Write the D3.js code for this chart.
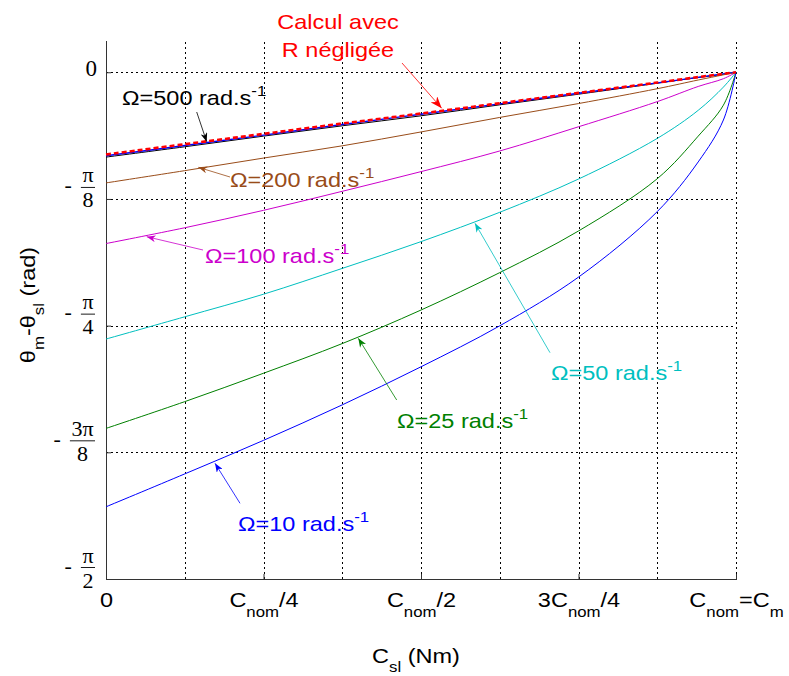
<!DOCTYPE html>
<html><head><meta charset="utf-8">
<script src="https://cdn.jsdelivr.net/npm/d3@7"></script>
<style>body{margin:0;background:#fff} svg{display:block}</style>
</head><body>
<svg id="chart" width="789" height="676"></svg>
<script>
// ---------- data (fraction of Cnom on x, angle in rad on y) ----------
const xFrac      = [0, 0.125, 0.25, 0.375, 0.5, 0.625, 0.75, 0.875, 0.94, 0.98, 1];
const valsRneg   = [-0.255,-0.223,-0.191,-0.159,-0.128,-0.096,-0.064,-0.032,-0.015,-0.005,0];
const valsW1000  = [-0.259,-0.227,-0.195,-0.162,-0.130,-0.098,-0.065,-0.033,-0.016,-0.005,0];
const valsW500   = [-0.263,-0.231,-0.198,-0.166,-0.135,-0.101,-0.068,-0.034,-0.016,-0.006,0];
const valsW200   = [-0.343,-0.305,-0.266,-0.228,-0.185,-0.140,-0.097,-0.051,-0.024,-0.008,0];
const valsW100   = [-0.531,-0.482,-0.428,-0.369,-0.308,-0.244,-0.169,-0.091,-0.044,-0.020,0];
const valsW50    = [-0.827,-0.758,-0.688,-0.608,-0.525,-0.434,-0.331,-0.205,-0.118,-0.046,0];
const valsW25    = [-1.104,-1.021,-0.933,-0.841,-0.737,-0.621,-0.492,-0.330,-0.198,-0.102,0];
const valsW10    = [-1.347,-1.245,-1.141,-1.031,-0.913,-0.786,-0.635,-0.432,-0.278,-0.148,0];

const xTickValues = [0, 0.25, 0.5, 0.75, 1];
const xTickLabels = ["0", "C_{nom}/4", "C_{nom}/2", "3C_{nom}/4", "C_{nom}=C_{m}"];
const xGridValues = [0.125, 0.25, 0.375, 0.5, 0.625, 0.75, 0.875, 1];
const yTickValues = [0, -Math.PI/8, -Math.PI/4, -3*Math.PI/8, -Math.PI/2];
const yTickNum    = ["0", "π", "π", "3π", "π"];
const yTickDen    = ["", "8", "4", "8", "2"];
const yGridValues = [0, -Math.PI/8, -Math.PI/4, -3*Math.PI/8];

const xTitle = "C_{sl} (Nm)";
const yTitle = "θ_{m}-θ_{sl} (rad)";

// ---------- styles ----------
const series = [
  {vals: valsW500,  color:"#000000", width:1,   dash:null},
  {vals: valsW1000, color:"#0000ff", width:1.4, dash:null},
  {vals: valsW200,  color:"#994c19", width:1,   dash:null},
  {vals: valsW100,  color:"#cc00cc", width:1,   dash:null},
  {vals: valsW50,   color:"#00bfbf", width:1,   dash:null},
  {vals: valsW25,   color:"#008000", width:1,   dash:null},
  {vals: valsW10,   color:"#0000ff", width:1,   dash:null},
  {vals: valsRneg,  color:"#ff0000", width:2.6, dash:"5,3"}
];

const annotations = [
  {lines:["Calcul avec","R négligée"], color:"#ff0000", x:338, ys:[29,57], anchor:"middle", tail:[402,63], tip:[441.7,108.3], big:true},
  {lines:["Ω=500 rad.s^{-1}"], color:"#000000", x:122, ys:[105], anchor:"start", tail:[196.7,112], tip:[206.7,141.7]},
  {lines:["Ω=200 rad.s^{-1}"], color:"#994c19", x:230, ys:[187], anchor:"start", tail:[230,177], tip:[198.3,167.3]},
  {lines:["Ω=100 rad.s^{-1}"], color:"#cc00cc", x:205, ys:[263], anchor:"start", tail:[203,250], tip:[146.7,236.7]},
  {lines:["Ω=50 rad.s^{-1}"],  color:"#00bfbf", x:551, ys:[380], anchor:"start", tail:[550,352.7], tip:[475,223.3]},
  {lines:["Ω=25 rad.s^{-1}"],  color:"#008000", x:397, ys:[428], anchor:"start", tail:[396.7,400], tip:[358.3,338.3]},
  {lines:["Ω=10 rad.s^{-1}"],  color:"#0000ff", x:238, ys:[531], anchor:"start", tail:[240,503.3], tip:[215,463.3]}
];

const SANS = "'Liberation Sans', Arial, Helvetica, sans-serif";
const SERIF = "'Liberation Serif', 'DejaVu Serif', serif";
const SX = 1.12; // horizontal stretch of the sans text

// ---------- scales ----------
const L = 106, R = 736, T = 40, B = 579;
const x = d3.scaleLinear().domain([0, 1]).range([L, R]);
const y = d3.scaleLinear().domain([-Math.PI/2, 0.1]).range([B, T]);

const svg = d3.select("#chart");
const defs = svg.append("defs");

function rich(sel, str, o) {
  const toks = str.split(/(_\{[^}]*\}|\^\{[^}]*\})/).filter(s => s.length);
  let cur = 0;
  toks.forEach(t => {
    let target = 0, size = o.size, txt = t;
    if (t.startsWith("_{")) { target = o.subDy; size = o.subSize; txt = t.slice(2, -1); }
    else if (t.startsWith("^{")) { target = o.supDy; size = o.supSize; txt = t.slice(2, -1); }
    sel.append("tspan").attr("dy", target - cur).attr("font-size", size).text(txt);
    cur = target;
  });
}
const RICH = {size:21, subSize:15, subDy:9, supSize:15, supDy:-9};

// ---------- grid ----------
const gridX = svg.append("g").attr("transform", `translate(0,${B})`)
  .call(d3.axisBottom(x).tickValues(xGridValues).tickSize(-(B - T)).tickFormat(""));
gridX.select(".domain").remove();
gridX.selectAll("line").attr("stroke", "#000").attr("stroke-width", 1).attr("stroke-dasharray", "2,3")
  .attr("shape-rendering", "crispEdges");

const gridY = svg.append("g").attr("transform", `translate(${L},0)`)
  .call(d3.axisLeft(y).tickValues(yGridValues).tickSize(-(R - L)).tickFormat(""));
gridY.select(".domain").remove();
gridY.selectAll("line").attr("stroke", "#000").attr("stroke-width", 1).attr("stroke-dasharray", "2,3")
  .attr("shape-rendering", "crispEdges");

// ---------- axes ----------
const axX = svg.append("g").attr("transform", `translate(0,${B})`)
  .call(d3.axisBottom(x).tickValues(xTickValues).tickSizeInner(-5).tickSizeOuter(0).tickFormat(""));
axX.select(".domain").attr("stroke", "#333").attr("shape-rendering", "crispEdges");
axX.selectAll(".tick line").attr("stroke", "#333");
axX.selectAll(".tick text").remove();
axX.selectAll(".tick").each(function(d, i) {
  const t = d3.select(this).append("text")
    .attr("transform", `translate(0,28) scale(${SX},1)`).attr("text-anchor", "middle")
    .attr("fill", "#000").attr("font-family", SANS).attr("font-size", 21);
  rich(t, xTickLabels[i], {size:21, subSize:15, subDy:10, supSize:15, supDy:-9});
});

const axY = svg.append("g").attr("transform", `translate(${L},0)`)
  .call(d3.axisLeft(y).tickValues(yTickValues).tickSizeInner(-5).tickSizeOuter(0).tickFormat(""));
axY.select(".domain").attr("stroke", "#333").attr("shape-rendering", "crispEdges");
axY.selectAll(".tick line").attr("stroke", "#333");
axY.selectAll(".tick text").remove();
axY.selectAll(".tick").each(function(d, i) {
  const g = d3.select(this);
  if (!yTickDen[i]) {
    g.append("text").attr("x", -9).attr("y", 3).attr("text-anchor", "end")
      .attr("font-family", SERIF).attr("font-size", 23).attr("fill", "#000").text(yTickNum[i]);
    return;
  }
  const num = g.append("text").attr("y", -17).attr("text-anchor", "middle")
    .attr("font-family", SERIF).attr("font-size", 22).attr("fill", "#000").text(yTickNum[i]);
  const den = g.append("text").attr("y", 8).attr("text-anchor", "middle")
    .attr("font-family", SERIF).attr("font-size", 22).attr("fill", "#000").text(yTickDen[i]);
  const w = Math.max(num.node().getBBox().width, den.node().getBBox().width) + 3;
  const right = -11, cx = right - w / 2;
  num.attr("x", cx); den.attr("x", cx);
  g.append("line").attr("x1", right - w).attr("x2", right).attr("y1", -12).attr("y2", -12)
    .attr("stroke", "#000").attr("stroke-width", 0.9);
  g.append("text").attr("x", right - w - 9).attr("y", -7).attr("text-anchor", "end")
    .attr("font-family", SERIF).attr("font-size", 22).attr("fill", "#000").text("-");
});

// ---------- curves ----------
const line = d3.line().x(d => x(d[0])).y(d => y(d[1])).curve(d3.curveCatmullRom.alpha(0.5));
series.forEach(s => {
  svg.append("path").datum(xFrac.map((f, i) => [f, s.vals[i]]))
    .attr("d", line).attr("fill", "none").attr("stroke", s.color)
    .attr("stroke-width", s.width).attr("stroke-dasharray", s.dash);
});

// ---------- titles ----------
const xt = svg.append("text").attr("transform", `translate(416,663) scale(${SX},1)`).attr("text-anchor", "middle")
  .attr("font-family", SANS).attr("fill", "#000");
rich(xt, xTitle, RICH);

const yt = svg.append("text").attr("transform", `translate(35,305) rotate(-90) scale(${SX},1)`)
  .attr("text-anchor", "middle").attr("font-family", SANS).attr("fill", "#000");
rich(yt, yTitle, RICH);

// ---------- annotations ----------
annotations.forEach((a, k) => {
  const id = "arr" + k;
  const len = a.big ? 12 : 9, wid = a.big ? 9 : 7;
  defs.append("marker").attr("id", id).attr("markerUnits", "userSpaceOnUse")
    .attr("markerWidth", len).attr("markerHeight", wid)
    .attr("refX", len).attr("refY", wid / 2).attr("orient", "auto")
    .append("path").attr("d", `M0,0 L${len},${wid/2} L0,${wid} L${len*0.3},${wid/2} Z`).attr("fill", a.color);
  svg.append("line").attr("x1", a.tail[0]).attr("y1", a.tail[1]).attr("x2", a.tip[0]).attr("y2", a.tip[1])
    .attr("stroke", a.color).attr("stroke-width", 0.8).attr("marker-end", `url(#${id})`);
  a.lines.forEach((ln, j) => {
    const t = svg.append("text").attr("transform", `translate(${a.x},${a.ys[j]}) scale(${SX},1)`)
      .attr("text-anchor", a.anchor).attr("font-family", SANS).attr("fill", a.color);
    rich(t, ln, RICH);
  });
});
</script>
</body></html>
